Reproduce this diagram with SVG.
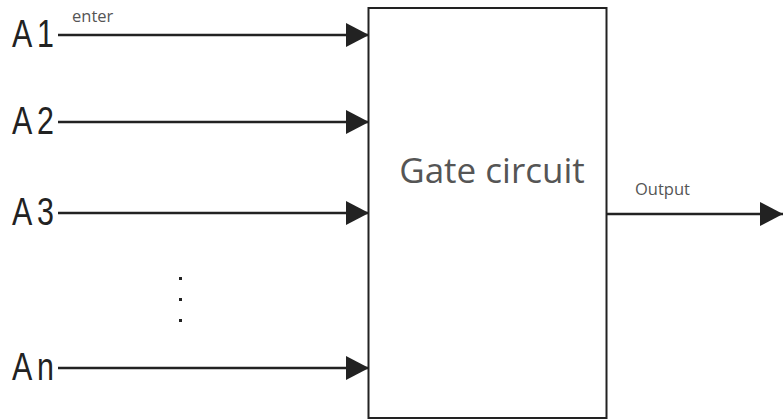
<svg xmlns="http://www.w3.org/2000/svg" width="783" height="419" viewBox="0 0 783 419">
<style>
.in{font-family:"Liberation Sans",sans-serif;font-size:38px;fill:#222;letter-spacing:6px;}
.sm{font-family:"Open Sans","Noto Sans",sans-serif;font-size:16.5px;fill:#555;}
.big{font-family:"Open Sans","Noto Sans",sans-serif;font-size:35px;fill:#555;}
.wire{stroke:#222;stroke-width:2.5;fill:none;}
</style>
<defs>
<marker id="ah" markerUnits="userSpaceOnUse" markerWidth="24" markerHeight="26" refX="23" refY="12" orient="auto">
<path d="M0,0 L23,12 L0,24 Z" fill="#222"/>
</marker>
</defs>
<rect width="783" height="419" fill="#fff"/>
<g id="connectors">
<line class="wire" x1="58" y1="35" x2="369" y2="35" marker-end="url(#ah)"/>
<line class="wire" x1="58" y1="122" x2="369" y2="122" marker-end="url(#ah)"/>
<line class="wire" x1="58" y1="213" x2="369" y2="213" marker-end="url(#ah)"/>
<line class="wire" x1="58" y1="368" x2="369" y2="368" marker-end="url(#ah)"/>
<line class="wire" x1="607" y1="214" x2="783" y2="214" marker-end="url(#ah)"/>
</g>
<g id="gate">
<rect x="368.5" y="8" width="238" height="410" fill="none" stroke="#222" stroke-width="2"/>
<text class="big" x="492" y="183" text-anchor="middle">Gate circuit</text>
</g>
<g id="A1"><text class="in" transform="translate(12,47) scale(0.8,1)">A1</text></g>
<g id="A2"><text class="in" transform="translate(12,134) scale(0.8,1)">A2</text></g>
<g id="A3"><text class="in" transform="translate(12,225) scale(0.8,1)">A3</text></g>
<g id="An"><text class="in" transform="translate(12,380) scale(0.8,1)">An</text></g>
<g id="labels">
<text class="sm" x="72" y="22">enter</text>
<text class="sm" x="635" y="195">Output</text>
</g>
<g id="dots" fill="#222">
<rect x="179" y="277" width="3" height="3"/>
<rect x="179" y="298" width="3" height="3"/>
<rect x="179" y="319" width="3" height="3"/>
</g>
</svg>
